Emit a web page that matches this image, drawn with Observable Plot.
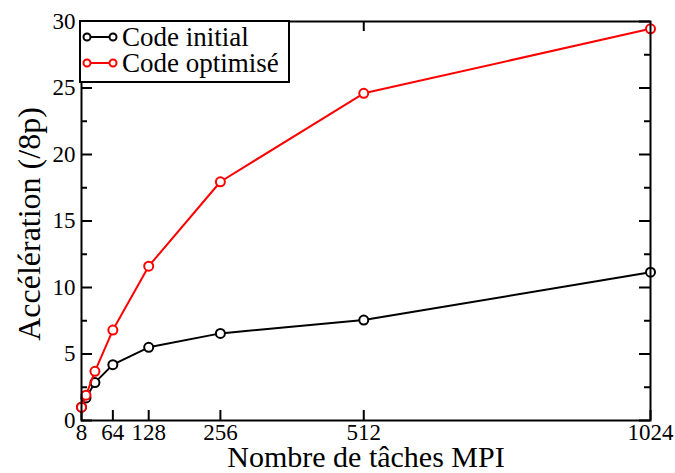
<!DOCTYPE html>
<html><head><meta charset="utf-8">
<script src="https://cdn.jsdelivr.net/npm/d3@7"></script>
<script src="https://cdn.jsdelivr.net/npm/@observablehq/plot@0.6"></script>
<style>body{margin:0;background:#fff} svg text{font-family:'Liberation Serif','Times New Roman',serif !important}</style>
</head><body><div id="chart"></div>
<script>
const tasks = [8, 16, 32, 64, 128, 256, 512, 1024];
const codeInitial = [1.0, 1.7, 2.85, 4.2, 5.5, 6.55, 7.55, 11.15];
const codeOptimise = [1.0, 1.9, 3.7, 6.8, 11.6, 17.95, 24.6, 29.45];
const seriesNames = ["Code initial", "Code optimisé"];
const seriesColors = ["#000000", "#ff0000"];
const xTicks = [8, 64, 128, 256, 512, 1024];
const xTopTicks = [64, 128, 256, 512];
const yTicks = [0, 5, 10, 15, 20, 25, 30];
const yMinor = [2.5, 7.5, 12.5, 17.5, 22.5, 27.5];
const xLabel = "Nombre de tâches MPI";
const yLabel = "Accélération (/8p)";

const seriesValues = [codeInitial, codeOptimise];
const rows = seriesNames.map((s, i) => tasks.map((t, j) => ({series: s, tasks: t, value: seriesValues[i][j]})));

const W = 675, H = 473, mL = 81, mR = 25, mT = 21, mB = 53;
const fw = W - mL - mR, fh = H - mT - mB;
const font = "'Liberation Serif','Times New Roman',serif";
const seriesMarks = rows.flatMap((r, i) => [
  Plot.line(r, {x: "tasks", y: "value", stroke: seriesColors[i], strokeWidth: 2}),
  Plot.dot(r, {x: "tasks", y: "value", stroke: seriesColors[i], fill: "white", r: 4.5, strokeWidth: 2})
]);

const chart = Plot.plot({
  width: W, height: H,
  marginLeft: mL, marginRight: mR, marginTop: mT, marginBottom: mB,
  style: {fontFamily: font, fontSize: "23px", background: "#fff", color: "#000"},
  x: {domain: [8, 1024], ticks: xTicks, tickSize: 0, tickPadding: 3, tickFormat: d => String(d), label: null},
  y: {domain: [0, 30], ticks: yTicks, tickSize: 0, tickPadding: 6, label: null},
  marks: [
    Plot.ruleX(xTicks, {x: d => d, insetTop: fh - 10, strokeWidth: 2, stroke: "black"}),
    Plot.ruleX(xTopTicks, {x: d => d, insetBottom: fh - 10, strokeWidth: 2, stroke: "black"}),
    Plot.ruleY(yTicks, {y: d => d, insetRight: fw - 11, strokeWidth: 2, stroke: "black"}),
    Plot.ruleY(yMinor, {y: d => d, insetRight: fw - 6, strokeWidth: 2, stroke: "black"}),
    Plot.ruleY(yTicks, {y: d => d, insetLeft: fw - 11, strokeWidth: 2, stroke: "black"}),
    Plot.ruleY(yMinor, {y: d => d, insetLeft: fw - 6, strokeWidth: 2, stroke: "black"}),
    Plot.text([xLabel], {frameAnchor: "bottom", textAnchor: "middle", dy: 46, fontSize: 30, fill: "black"}),
    Plot.text([yLabel], {frameAnchor: "left", textAnchor: "middle", lineAnchor: "middle", dx: -52, dy: 3, rotate: -90, fontSize: 32, fill: "black"}),
    ...seriesMarks,
    Plot.frame({strokeWidth: 2, stroke: "black"})
  ]
});
document.getElementById("chart").appendChild(chart);

// Legend box (inside plot, top-left)
const svg = d3.select(chart);
const lg = svg.append("g").attr("transform", `translate(${mL - 1},${mT})`);
lg.append("rect").attr("x", 0).attr("y", 0).attr("width", 209).attr("height", 61)
  .attr("fill", "white").attr("stroke", "black").attr("stroke-width", 2);
seriesNames.forEach((name, i) => {
  const yy = 16 + i * 26;
  const g = lg.append("g").attr("transform", `translate(0,${yy})`);
  g.append("line").attr("x1", 7).attr("x2", 33).attr("y1", 0).attr("y2", 0)
    .attr("stroke", seriesColors[i]).attr("stroke-width", 2);
  [7, 33].forEach(cx => g.append("circle").attr("cx", cx).attr("cy", 0).attr("r", 3.5)
    .attr("fill", "white").attr("stroke", seriesColors[i]).attr("stroke-width", 2));
  g.append("text").attr("x", 42).attr("y", 0).attr("dy", "0.35em").attr("text-anchor", "start")
    .attr("font-family", font).attr("font-size", 27).attr("fill", "black").text(name);
});
</script>
</body></html>
